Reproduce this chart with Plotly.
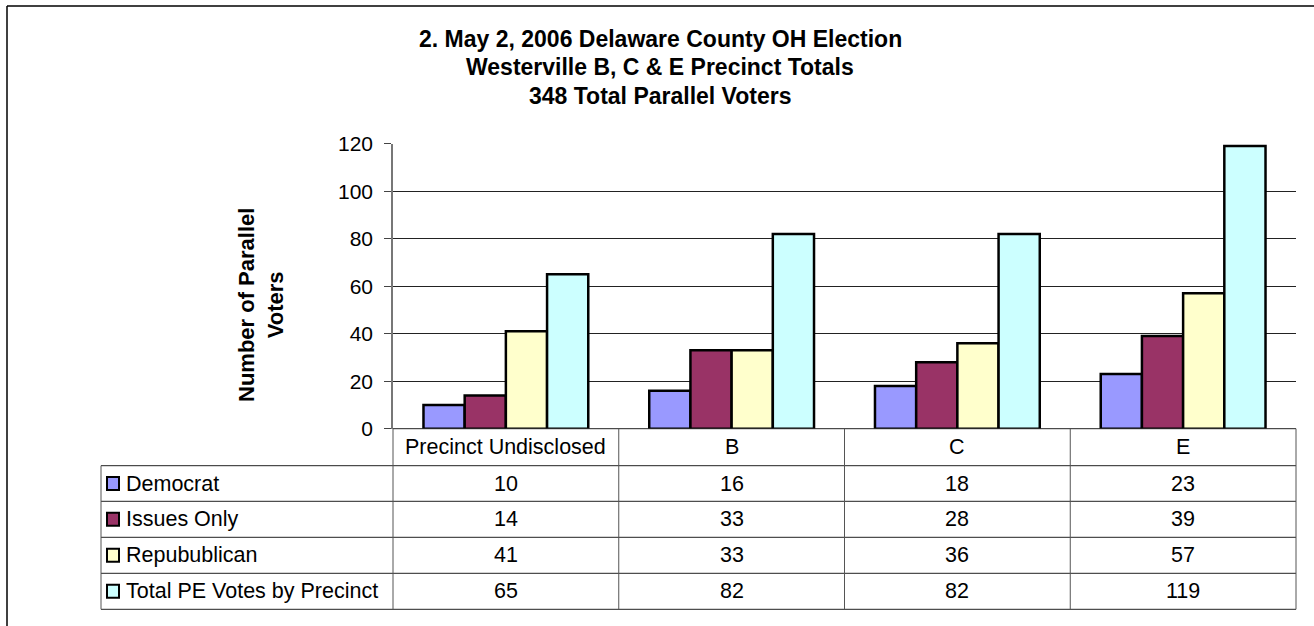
import plotly.graph_objects as go

# ---------------- data ----------------
categories = ["Precinct Undisclosed", "B", "C", "E"]
series_names = ["Democrat", "Issues Only", "Repubublican", "Total PE Votes by Precinct"]
democrat = [10, 16, 18, 23]
issues_only = [14, 33, 28, 39]
republican = [41, 33, 36, 57]
total_pe = [65, 82, 82, 119]
series_values = [democrat, issues_only, republican, total_pe]
series_colors = ["#9999FF", "#993366", "#FFFFCC", "#CCFFFF"]
y_ticks = [0, 20, 40, 60, 80, 100, 120]
title_lines = ["2. May 2, 2006 Delaware County OH Election",
               "Westerville B, C & E Precinct Totals",
               "348 Total Parallel Voters"]
y_title = "Number of Parallel<br>Voters"

# ---------------- layout geometry (pixels) ----------------
W, H = 1314, 626
PL, PR, PT, PB = 393, 1296, 143.7, 428.7     # plot area
TL = 101                                      # table left
ROW_Y = [PB, 465.7, 501.3, 537.3, 573.3, 609.3]

def fx(px):
    return px / W

def fy(py):
    return 1 - py / H

FONT = "Liberation Sans, Arial, sans-serif"

fig = go.Figure()
for name, vals, col in zip(series_names, series_values, series_colors):
    fig.add_trace(go.Bar(
        x=categories, y=vals, name=name,
        marker=dict(color=col, line=dict(color="black", width=2.5)),
        showlegend=False, hoverinfo="x+y+name",
    ))

shapes = []
# outer chart border (left and top visible)
shapes.append(dict(type="line", xref="paper", yref="paper",
                   x0=fx(7), x1=fx(7), y0=fy(6), y1=fy(H + 10),
                   line=dict(color="black", width=1.5)))
shapes.append(dict(type="line", xref="paper", yref="paper",
                   x0=fx(7), x1=fx(W + 10), y0=fy(6), y1=fy(6),
                   line=dict(color="black", width=1.5)))

# data table lines
ncat = len(categories)
colw = (PR - PL) / ncat
for i, yy in enumerate(ROW_Y):
    x0 = PL if i == 0 else TL
    shapes.append(dict(type="line", xref="paper", yref="paper",
                       x0=fx(x0), x1=fx(PR), y0=fy(yy), y1=fy(yy),
                       line=dict(color="#222222", width=1)))
for j in range(ncat + 1):
    xx = PL + j * colw
    shapes.append(dict(type="line", xref="paper", yref="paper",
                       x0=fx(xx), x1=fx(xx), y0=fy(PB), y1=fy(ROW_Y[-1]),
                       line=dict(color="#555555", width=1)))
shapes.append(dict(type="line", xref="paper", yref="paper",
                   x0=fx(TL), x1=fx(TL), y0=fy(ROW_Y[1]), y1=fy(ROW_Y[-1]),
                   line=dict(color="#555555", width=1)))

annotations = []
# title
title_y = [39, 67.5, 96.5]
for t, yy in zip(title_lines, title_y):
    annotations.append(dict(text="<b>%s</b>" % t, xref="paper", yref="paper",
                            x=fx(660), y=fy(yy), xanchor="center", yanchor="middle",
                            showarrow=False, font=dict(family=FONT, size=23, color="black")))
# y axis title
annotations.append(dict(text="<b>%s</b>" % y_title, xref="paper", yref="paper",
                        x=fx(261), y=fy(305), xanchor="center", yanchor="middle",
                        textangle=-90, showarrow=False,
                        font=dict(family=FONT, size=22, color="black")))
# header row: category labels
for j, c in enumerate(categories):
    annotations.append(dict(text=c, xref="paper", yref="paper",
                            x=fx(PL + (j + 0.5) * colw), y=fy((ROW_Y[0] + ROW_Y[1]) / 2),
                            xanchor="center", yanchor="middle", showarrow=False,
                            font=dict(family=FONT, size=21.5, color="black")))
# data rows
for i, (name, vals, col) in enumerate(zip(series_names, series_values, series_colors)):
    yc = (ROW_Y[i + 1] + ROW_Y[i + 2]) / 2
    shapes.append(dict(type="rect", xref="paper", yref="paper",
                       x0=fx(107), x1=fx(119), y0=fy(yc - 6.5), y1=fy(yc + 6.5),
                       fillcolor=col, line=dict(color="black", width=2)))
    annotations.append(dict(text=name, xref="paper", yref="paper",
                            x=fx(124), y=fy(yc), xanchor="left", yanchor="middle",
                            showarrow=False, font=dict(family=FONT, size=21.5, color="black")))
    for j, v in enumerate(vals):
        annotations.append(dict(text=str(v), xref="paper", yref="paper",
                                x=fx(PL + (j + 0.5) * colw), y=fy(yc),
                                xanchor="center", yanchor="middle", showarrow=False,
                                font=dict(family=FONT, size=21.5, color="black")))

fig.update_layout(
    width=W, height=H, autosize=False,
    margin=dict(l=0, r=0, t=0, b=0, pad=0, autoexpand=False),
    paper_bgcolor="white", plot_bgcolor="white",
    barmode="group", bargap=0.27, bargroupgap=0,
    font=dict(family=FONT, size=21, color="black"),
    xaxis=dict(domain=[fx(PL), fx(PR)], showticklabels=False, ticks="",
               showgrid=False, zeroline=False, showline=False, automargin=False,
               categoryorder="array", categoryarray=categories),
    yaxis=dict(domain=[fy(PB), fy(PT)], range=[0, 120], tickvals=y_ticks,
               showgrid=True, gridcolor="#222222", gridwidth=1, automargin=False,
               zeroline=False, showline=True, linecolor="#777777", linewidth=1.5,
               ticks="outside", ticklen=7, tickcolor="#444444", tickwidth=1,
               ticklabelstandoff=7,
               tickfont=dict(family=FONT, size=21, color="black")),
    shapes=shapes, annotations=annotations,
)

fig.write_html("out.html", config={"displayModeBar": False},
               post_script="document.body.style.margin='0';")
